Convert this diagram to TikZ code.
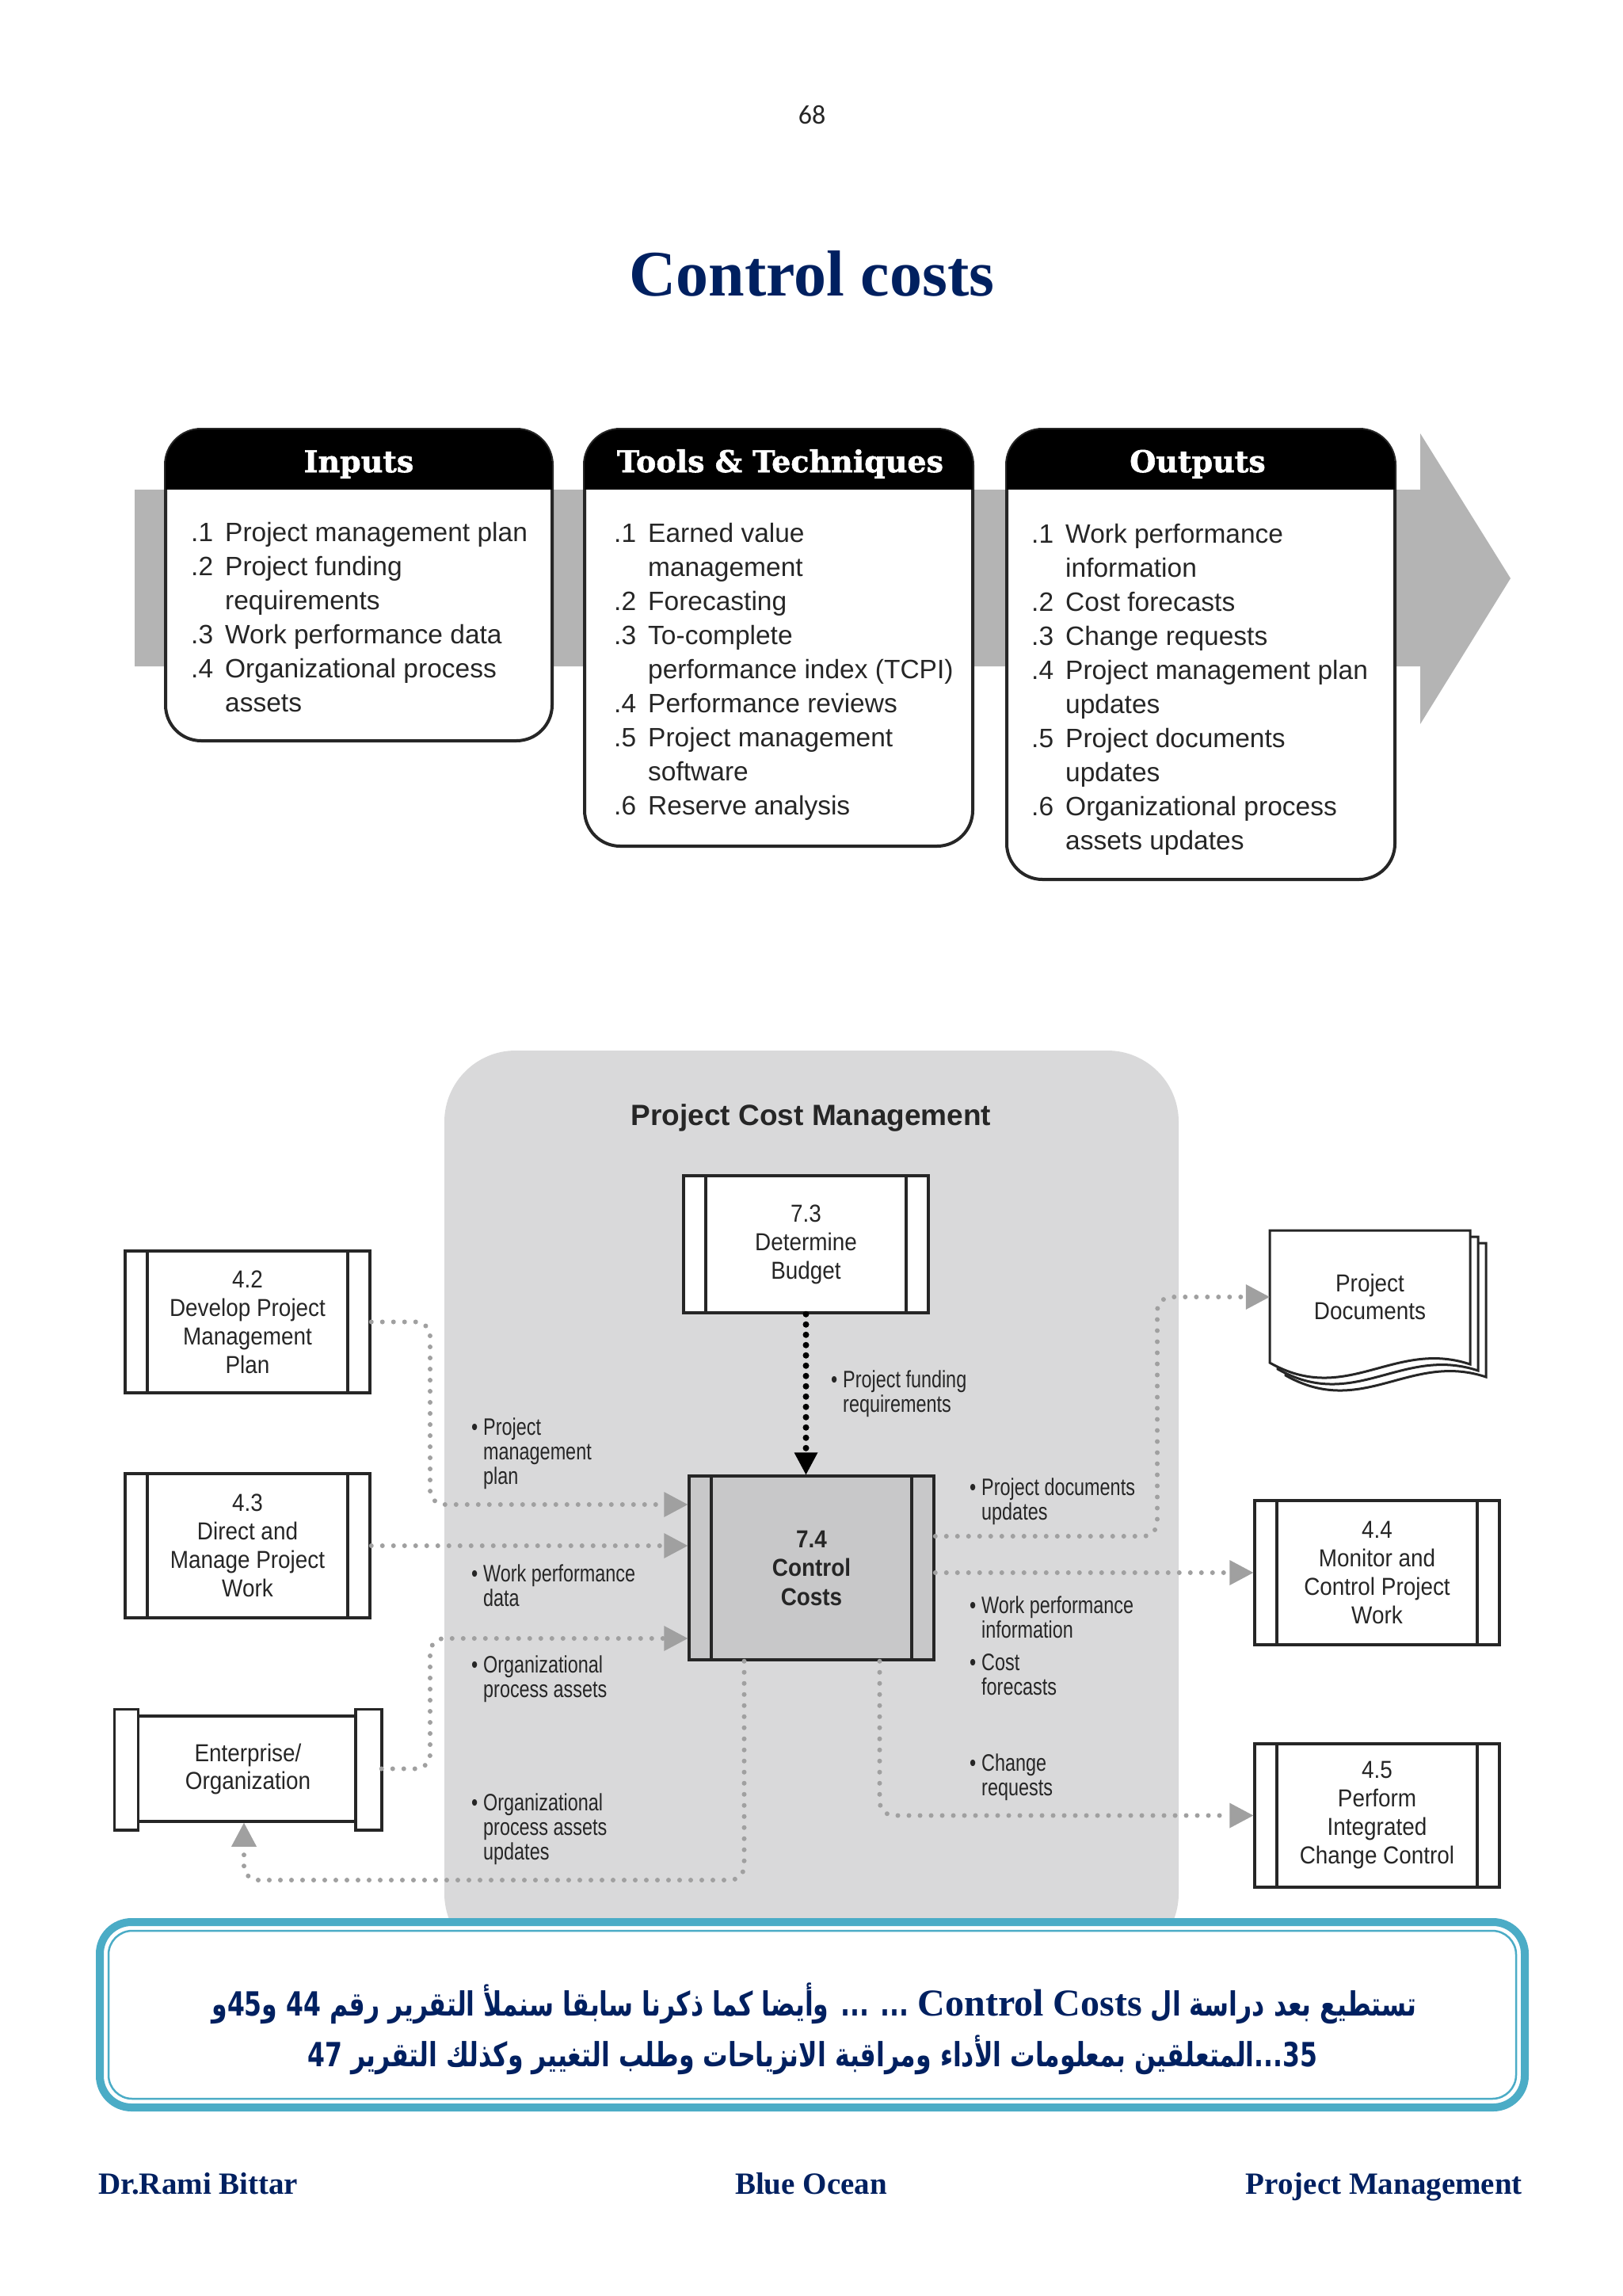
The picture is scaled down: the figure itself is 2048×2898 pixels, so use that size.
\documentclass[tikz,border=0pt]{standalone}
\usepackage{fontspec}
\usetikzlibrary{arrows.meta}
\TeXXeTstate=1
\setmainfont{Liberation Sans}
\newfontfamily\boxfont[FakeStretch=0.9]{Liberation Sans}
\newfontfamily\lblfont[FakeStretch=0.78]{Liberation Sans}
\newfontfamily\headfont[FakeBold=1.5]{DejaVu Serif}
\newfontfamily\serifb{Liberation Serif}
\newfontfamily\pagefont{Carlito}
\newfontfamily\arabicfont[Script=Arabic,FakeStretch=0.75]{DejaVu Sans}
\definecolor{navy}{HTML}{002060}
\definecolor{tealc}{HTML}{4BACC6}
\definecolor{bandgray}{HTML}{B4B4B4}
\definecolor{panelgray}{HTML}{D9D9DA}
\definecolor{ctrlgray}{HTML}{C8C8C9}
\definecolor{dotgray}{HTML}{A0A0A0}
\definecolor{txt}{HTML}{262626}
\begin{document}
\begin{tikzpicture}[x=1pt,y=-1pt,
  proc/.style={draw=txt, line width=3.5pt, fill=white, inner sep=0pt, align=center,
    font=\boxfont\fontsize{31}{36}\selectfont, text=txt, minimum width=309pt,
    path picture={\draw[line width=3.5pt, txt]
      ([xshift=28pt]path picture bounding box.north west) -- ([xshift=28pt]path picture bounding box.south west)
      ([xshift=-28pt]path picture bounding box.north east) -- ([xshift=-28pt]path picture bounding box.south east);}},
  lbl/.style={inner sep=0pt, font=\lblfont\fontsize{30}{31}\selectfont, text=txt, anchor=base west},
  topbox/.style={draw=txt, line width=4pt, rounded corners=45pt, fill=white, inner sep=0pt},
  head/.style={font=\headfont\bfseries\fontsize{38}{44}\selectfont, text=white, anchor=base, inner sep=0pt},
  lst/.style={font=\fontsize{33.5}{43}\selectfont, text=txt, anchor=base west, inner sep=0pt},
  gconn/.style={draw=dotgray, line width=6pt, line cap=round, dash pattern=on 0pt off 14pt, rounded corners=18pt},
  garrow/.style={-{Triangle[length=30pt,width=32pt,line width=0pt,fill=dotgray]}},
  bconn/.style={draw=black, line width=8pt, line cap=round, dash pattern=on 0pt off 13pt,
    -{Triangle[length=28pt,width=30pt,line width=0pt,fill=black]}}
]
\useasboundingbox (0,0) rectangle (2048,2898);
\fill[white] (0,0) rectangle (2048,2898);

% page number and title
\node[font=\pagefont\fontsize{34}{40}\selectfont, anchor=base, inner sep=0pt, text=txt] (pg) at (1025,157) {68};
\node[font=\serifb\bfseries\fontsize{82}{96}\selectfont, text=navy, anchor=base, inner sep=0pt] (title) at (1025,373) {Control costs};

% top gray band arrow
\fill[bandgray] (170,618) -- (1793,618) -- (1793,547) -- (1907,730) -- (1793,914) -- (1793,841) -- (170,841) -- cycle;

% Inputs box
\node[topbox, minimum width=488pt, minimum height=393pt] (inbox) at (453,738.5) {};
\begin{scope}\clip[rounded corners=45pt] (209,542) rectangle (697,935); \fill[black] (209,530) rectangle (697,618);\end{scope}
\node[head] (inhead) at (453,596) {Inputs};
\node[lst] (inlist) at (241,683) {\begin{tabular}[t]{@{}p{43pt}@{}l@{}}
.1 & Project management plan\\
.2 & Project funding\\
 & requirements\\
.3 & Work performance data\\
.4 & Organizational process\\
 & assets
\end{tabular}};

% Tools box
\node[topbox, minimum width=490pt, minimum height=526pt] (ttbox) at (983,805) {};
\begin{scope}\clip[rounded corners=45pt] (738,542) rectangle (1228,1068); \fill[black] (738,530) rectangle (1228,618);\end{scope}
\node[head] (tthead) at (985,596) {Tools \& Techniques};
\node[lst] (ttlist) at (775,684) {\begin{tabular}[t]{@{}p{43pt}@{}l@{}}
.1 & Earned value\\
 & management\\
.2 & Forecasting\\
.3 & To-complete\\
 & performance index (TCPI)\\
.4 & Performance reviews\\
.5 & Project management\\
 & software\\
.6 & Reserve analysis
\end{tabular}};

% Outputs box
\node[topbox, minimum width=490pt, minimum height=568pt] (outbox) at (1516,826) {};
\begin{scope}\clip[rounded corners=45pt] (1271,542) rectangle (1761,1110); \fill[black] (1271,530) rectangle (1761,618);\end{scope}
\node[head] (outhead) at (1512,596) {Outputs};
\node[lst] (outlist) at (1302,685) {\begin{tabular}[t]{@{}p{43pt}@{}l@{}}
.1 & Work performance\\
 & information\\
.2 & Cost forecasts\\
.3 & Change requests\\
.4 & Project management plan\\
 & updates\\
.5 & Project documents\\
 & updates\\
.6 & Organizational process\\
 & assets updates
\end{tabular}};

% panel
\fill[panelgray, rounded corners=90pt] (561,1326) rectangle (1488,2480);
\node[font=\bfseries\fontsize{37}{42}\selectfont, text=txt, anchor=base, inner sep=0pt] (pcm) at (1024,1420) {Project Cost Management};

% process boxes
\node[proc, minimum height=173pt] (n73) at (1017.5,1570.5) {7.3\\Determine\\Budget};
\node[proc, minimum height=232pt, fill=ctrlgray, font=\boxfont\bfseries\fontsize{31}{36.5}\selectfont] (n74) at (1024.5,1979) {7.4\\Control\\Costs};
\node[proc, minimum height=179pt] (n42) at (312.5,1668.5) {4.2\\Develop Project\\Management\\Plan};
\node[proc, minimum height=182pt] (n43) at (312.5,1951) {4.3\\Direct and\\Manage Project\\Work};
\node[proc, minimum height=182pt] (n44) at (1738.5,1985) {4.4\\Monitor and\\Control Project\\Work};
\node[proc, minimum height=181pt] (n45) at (1738.5,2291.5) {4.5\\Perform\\Integrated\\Change Control};

% enterprise box
\node[draw=txt, line width=3.5pt, fill=white, minimum width=334pt, minimum height=133pt, inner sep=0pt, align=center,
  font=\boxfont\fontsize{31}{35}\selectfont, text=txt] (ent) at (313,2232.5) {Enterprise/\\Organization};
\draw[txt, line width=3.5pt, fill=white] ([yshift=7pt]ent.north west) rectangle ([xshift=30pt,yshift=-9pt]ent.south west);
\draw[txt, line width=3.5pt, fill=white] ([yshift=7pt]ent.north east) rectangle ([xshift=-33pt,yshift=-9pt]ent.south east);

% project documents
\foreach \k in {2,1} {
  \draw[txt, line width=3pt, fill=white, shift={(10*\k,8*\k)}]
    (1603,1553) -- (1856,1553) -- (1856,1722) .. controls (1760,1690) and (1700,1775) .. (1603,1720) -- cycle;
}
\draw[txt, line width=3pt, fill=white]
    (1603,1553) -- (1856,1553) -- (1856,1722) .. controls (1760,1690) and (1700,1775) .. (1603,1720) -- cycle;
\node[minimum width=253pt, minimum height=168pt, inner sep=0pt, align=center,
  font=\boxfont\fontsize{31}{35}\selectfont, text=txt] (docs) at (1729.5,1637) {Project\\Documents};

% connectors
\draw[bconn] (n73.south) -- (n73.south |- n74.north);
\draw[gconn, garrow] (n42.east) -- (543,1668.5) -- (543,1899) -- ([yshift=80pt]n74.west);
\draw[gconn, garrow] (n43.east) -- (n74.west |- n43.east);
\draw[gconn, garrow] (ent.east) -- (543,2232.5) -- (543,2068) -- ([yshift=-89pt]n74.west);
\draw[gconn, garrow] ([xshift=-85pt]n74.south) -- (939.5,2373) -- (308,2373) -- ([xshift=-5pt]ent.south);
\draw[gconn, garrow] ([yshift=40pt]n74.east) -- (1461,1939) -- (1461,1637) -- (docs.west);
\draw[gconn, garrow] (n74.east |- n44.west) -- (n44.west);
\draw[gconn, garrow] ([xshift=86pt]n74.south) -- (1110.5,2291.5) -- (n45.west);

% labels
\node[lbl] (lfund) at (1064,1751) {\begin{tabular}[t]{@{}l@{}}\llap{\textbullet\hspace{7pt}}Project funding\\requirements\end{tabular}};
\node[lbl] (lpmp) at (610,1811) {\begin{tabular}[t]{@{}l@{}}\llap{\textbullet\hspace{7pt}}Project\\management\\plan\end{tabular}};
\node[lbl] (lwpd) at (610,1996) {\begin{tabular}[t]{@{}l@{}}\llap{\textbullet\hspace{7pt}}Work performance\\data\end{tabular}};
\node[lbl] (lopa) at (610,2111) {\begin{tabular}[t]{@{}l@{}}\llap{\textbullet\hspace{7pt}}Organizational\\process assets\end{tabular}};
\node[lbl] (lopau) at (610,2285) {\begin{tabular}[t]{@{}l@{}}\llap{\textbullet\hspace{7pt}}Organizational\\process assets\\updates\end{tabular}};
\node[lbl] (lpdu) at (1239,1887) {\begin{tabular}[t]{@{}l@{}}\llap{\textbullet\hspace{7pt}}Project documents\\updates\end{tabular}};
\node[lbl] (lwpi) at (1239,2036) {\begin{tabular}[t]{@{}l@{}}\llap{\textbullet\hspace{7pt}}Work performance\\information\end{tabular}};
\node[lbl] (lcf) at (1239,2108) {\begin{tabular}[t]{@{}l@{}}\llap{\textbullet\hspace{7pt}}Cost\\forecasts\end{tabular}};
\node[lbl] (lcr) at (1239,2235) {\begin{tabular}[t]{@{}l@{}}\llap{\textbullet\hspace{7pt}}Change\\requests\end{tabular}};

% teal box
\draw[tealc, line width=10pt, fill=white, rounded corners=40pt] (126,2426) rectangle (1925,2660);
\draw[tealc, line width=2.5pt, rounded corners=30pt] (137,2437) rectangle (1914,2649);
\node[font=\arabicfont\bfseries\fontsize{42}{64}\selectfont, text=navy, anchor=base, inner sep=0pt] (ar1) at (1028,2544)
 {\beginR تستطيع بعد دراسة ال \beginL{\serifb\bfseries\fontsize{48}{64}\selectfont Control Costs}\endL{} ... ... وأيضا كما ذكرنا سابقا سنملأ التقرير رقم \beginL 44\endL{} و\beginL 45\endL{}و\endR};
\node[font=\arabicfont\bfseries\fontsize{42}{64}\selectfont, text=navy, anchor=base, inner sep=0pt] (ar2) at (1026,2608)
 {\beginR\beginL 35\endL{}...المتعلقين بمعلومات الأداء ومراقبة الانزياحات وطلب التغيير وكذلك التقرير \beginL 47\endL\endR};

% footer
\node[font=\serifb\bfseries\fontsize{39}{45}\selectfont, text=navy, anchor=base west, inner sep=0pt] (f1) at (124,2769) {Dr.Rami Bittar};
\node[font=\serifb\bfseries\fontsize{39}{45}\selectfont, text=navy, anchor=base, inner sep=0pt] (f2) at (1024,2769) {Blue Ocean};
\node[font=\serifb\bfseries\fontsize{39}{45}\selectfont, text=navy, anchor=base east, inner sep=0pt] (f3) at (1922,2769) {Project Management};
\end{tikzpicture}
\end{document}
